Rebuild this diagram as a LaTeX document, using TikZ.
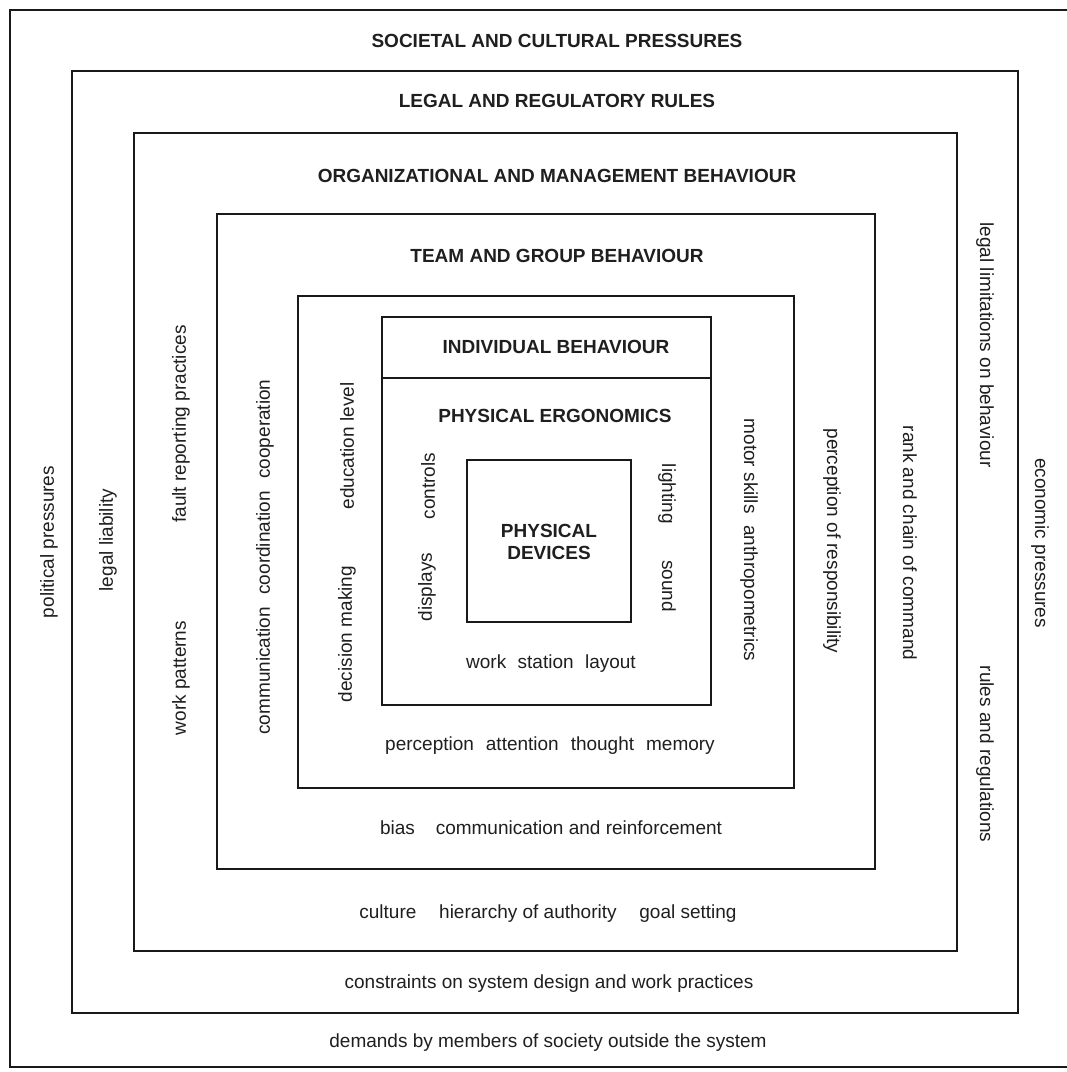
\documentclass[tikz,border=0pt]{standalone}
\usepackage{fontspec}
\setmainfont{Liberation Sans}
\begin{document}
\begin{tikzpicture}[x=1pt,y=-1pt,
  box/.style={draw=black!90, line width=1.5pt},
  ttl/.style={font=\fontsize{19}{23}\selectfont\bfseries, inner sep=0pt, text=black!88, anchor=base},
  lbl/.style={font=\fontsize{19}{23}\selectfont, inner sep=0pt, text=black!88},
  hl/.style={lbl, anchor=base},
  up/.style={lbl, rotate=90},
  dn/.style={lbl, rotate=-90}]
\useasboundingbox (0,0) rectangle (1067,1072);
\fill[white] (0,0) rectangle (1067,1072);
% frames
\draw[box] (1067,10) -- (10,10) -- (10,1067) -- (1067,1067);
\draw[box] (72,71) rectangle (1018,1013);
\draw[box] (134,133) rectangle (957,951);
\draw[box] (217,214) rectangle (875,869);
\draw[box] (298,296) rectangle (794,788);
\draw[box] (382,317) rectangle (711,705);
\draw[box] (382,378) -- (711,378);
\draw[box] (467,460) rectangle (631,622);
% titles
\node[ttl] (t1) at (557,47) {SOCIETAL AND CULTURAL PRESSURES};
\node[ttl] (t2) at (557,107) {LEGAL AND REGULATORY RULES};
\node[ttl] (t3) at (557,182) {ORGANIZATIONAL AND MANAGEMENT BEHAVIOUR};
\node[ttl] (t4) at (557,262) {TEAM AND GROUP BEHAVIOUR};
\node[ttl] (t5) at (556,353) {INDIVIDUAL BEHAVIOUR};
\node[ttl] (t6) at (555,422) {PHYSICAL ERGONOMICS};
\node[ttl] (t7a) at (549,537) {PHYSICAL};
\node[ttl] (t7b) at (549,559) {DEVICES};
% horizontal labels
\node[hl] (h1) at (551,668) {work\hspace{0.6em}station\hspace{0.6em}layout};
\node[hl] (h2) at (550,750) {perception\hspace{0.63em}attention\hspace{0.63em}thought\hspace{0.63em}memory};
\node[hl] (h3) at (551,834) {bias\hspace{1.1em}communication and reinforcement};
\node[hl] (h4) at (548,918) {culture\hspace{1.2em}hierarchy of authority\hspace{1.2em}goal setting};
\node[hl] (h5) at (549,988) {constraints on system design and work practices};
\node[hl] (h6) at (548,1047) {demands by members of society outside the system};
% left vertical labels
\node[up] (l1) at (49,542) {political pressures};
\node[up] (l2) at (108,540) {legal liability};
\node[up] (l3) at (181,424) {fault reporting practices};
\node[up] (l4) at (181,678) {work patterns};
\node[up] (l5) at (265,557) {communication\hspace{0.65em}coordination\hspace{0.65em}cooperation};
\node[up] (l6) at (347,446) {education level};
\node[up] (l7) at (347,634) {decision making};
\node[up] (l8) at (428,486) {controls};
\node[up] (l9) at (427,587) {displays};
% right vertical labels
\node[dn] (r1) at (667,494) {lighting};
\node[dn] (r2) at (669,586) {sound};
\node[dn] (r3) at (749,540) {motor skills\hspace{0.6em}anthropometrics};
\node[dn] (r4) at (832,541) {perception of responsibility};
\node[dn] (r5) at (910,543) {rank and chain of command};
\node[dn] (r6) at (985,345) {legal limitations on behaviour};
\node[dn] (r7) at (985,754) {rules and regulations};
\node[dn] (r8) at (1040,543) {economic pressures};
\end{tikzpicture}
\end{document}
